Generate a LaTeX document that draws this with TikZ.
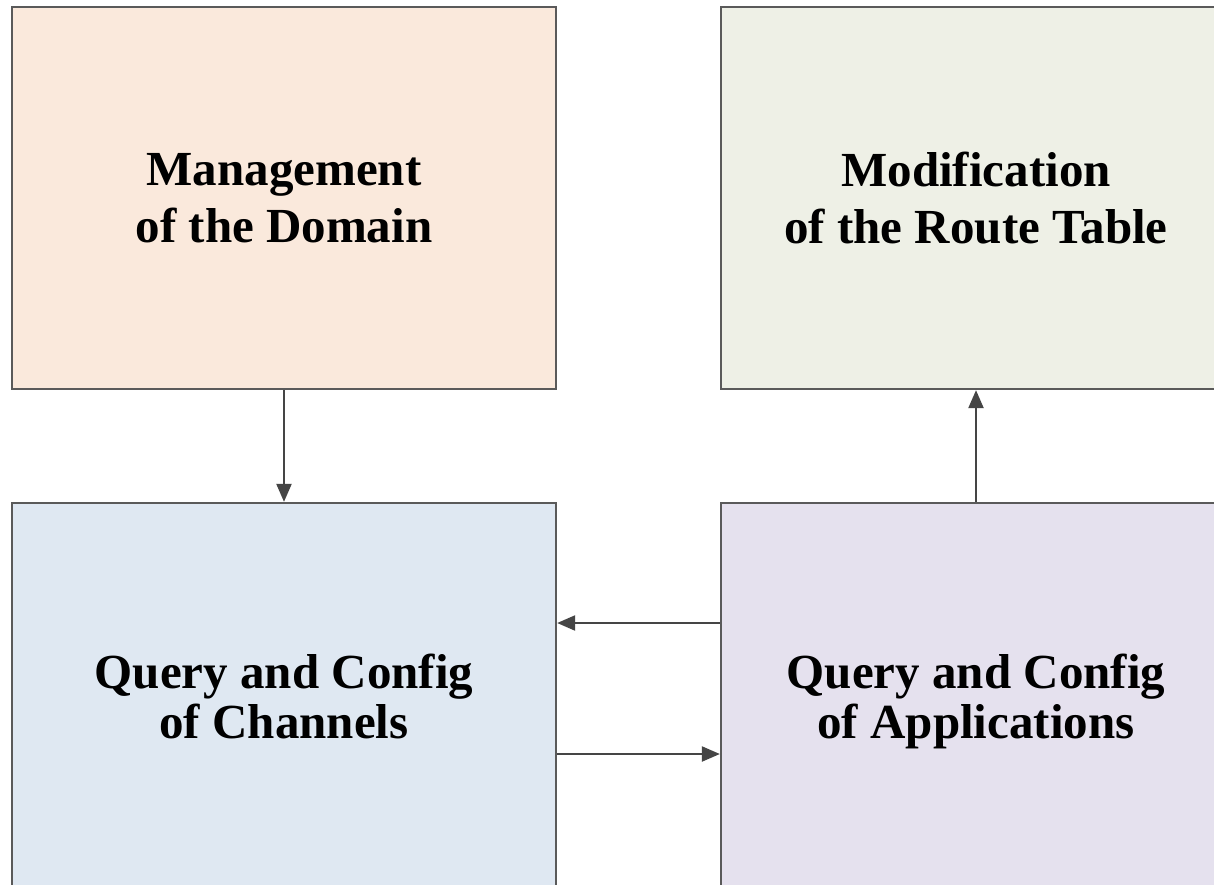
\documentclass[tikz,border=0pt]{standalone}
\usepackage{fontspec}
\setmainfont{Liberation Serif}
\usetikzlibrary{arrows.meta}
\definecolor{bordc}{HTML}{5A5A5A}
\definecolor{arrc}{HTML}{454545}
\definecolor{fillA}{HTML}{FAE9DC}
\definecolor{fillB}{HTML}{EEF0E6}
\definecolor{fillC}{HTML}{DFE8F2}
\definecolor{fillD}{HTML}{E5E1EE}
\tikzset{
  blk/.style={draw=bordc, line width=2.3pt, rectangle, align=center, minimum height=382pt,
    font=\fontsize{49}{57}\selectfont\bfseries, inner sep=0pt},
  txt/.style={align=center, font=\fontsize{49}{50}\selectfont\bfseries, inner sep=0pt},
  conn/.style={draw=arrc, line width=2.2pt, -{Triangle[length=18pt,width=15pt]}}
}
\begin{document}
\begin{tikzpicture}[x=1pt,y=-1pt]
\useasboundingbox (0,0) rectangle (1214,885);
\clip (0,0) rectangle (1214,885);
\fill[white] (0,0) rectangle (1214,885);
\node[blk, fill=fillA, minimum width=544pt] (tl) at (284,198) {Management\\of the Domain};
\node[blk, fill=fillB, minimum width=510pt] (tr) at (976,198) {Modification\\of the Route Table};
\node[blk, fill=fillC, minimum width=544pt, minimum height=392pt] (bl) at (284,699) {};
\node[blk, fill=fillD, minimum width=510pt, minimum height=392pt] (br) at (976,699) {};
\node[txt] (blt) at ([yshift=-2pt]bl.center) {Query and Config\\of Channels\vphantom{p}};
\node[txt] (brt) at ([yshift=-2pt]br.center) {Query and Config\\of Applications};
\draw[conn] (tl.south) -- (bl.north);
\draw[conn] (br.north) -- (tr.south);
\draw[conn] (br.west |- 0,623) -- (bl.east |- 0,623);
\draw[conn] (bl.east |- 0,754) -- (br.west |- 0,754);
\end{tikzpicture}
\end{document}
